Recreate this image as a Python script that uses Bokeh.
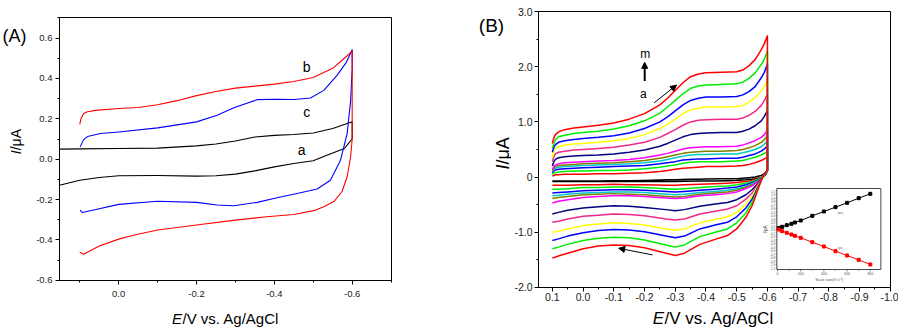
import math
from bokeh.plotting import figure
from bokeh.models import (Range1d, FixedTicker, PrintfTickFormatter, CustomJSTickFormatter,
                          Label, Arrow, NormalHead)
from bokeh.layouts import row, column
from bokeh.embed import file_html
from bokeh.resources import INLINE
from bokeh.core.properties import value

FONT = "Liberation Sans"

# ---------------- Panel A data (E in V, I in uA) ----------------
A_a_fwd_E = [0.152, 0.1, 0.0, -0.1, -0.2, -0.25, -0.3, -0.35, -0.4, -0.45, -0.5, -0.55, -0.6]
A_a_fwd_I = [0.050, 0.051, 0.053, 0.055, 0.066, 0.075, 0.090, 0.110, 0.118, 0.122, 0.130, 0.152, 0.185]
A_a_rev_E = [-0.6, -0.59, -0.58, -0.55, -0.53, -0.5, -0.45, -0.4, -0.35, -0.3, -0.25, -0.2, -0.1, 0.0, 0.05, 0.1, 0.152]
A_a_rev_I = [0.10, 0.077, 0.053, 0.031, 0.016, -0.008, -0.021, -0.038, -0.058, -0.074, -0.082, -0.084, -0.081, -0.082, -0.091, -0.104, -0.129]

A_b_fwd_E = [0.1, 0.097, 0.09, 0.08, 0.06, 0.0, -0.05, -0.1, -0.15, -0.2, -0.25, -0.3, -0.35, -0.4, -0.45, -0.5, -0.55, -0.58, -0.6]
A_b_fwd_I = [0.173, 0.20, 0.226, 0.235, 0.242, 0.251, 0.256, 0.270, 0.290, 0.315, 0.335, 0.352, 0.362, 0.372, 0.385, 0.405, 0.45, 0.50, 0.535]
A_b_rev_E = [-0.6, -0.596, -0.587, -0.574, -0.553, -0.527, -0.501, -0.45, -0.38, -0.3, -0.2, -0.1, -0.04, 0.0, 0.05, 0.09, 0.1]
A_b_rev_I = [0.10, 0.012, -0.087, -0.16, -0.21, -0.236, -0.255, -0.274, -0.285, -0.302, -0.326, -0.351, -0.376, -0.396, -0.430, -0.471, -0.461]

A_c_fwd_E = [0.099, 0.09, 0.08, 0.047, 0.0, -0.1, -0.2, -0.253, -0.296, -0.356, -0.407, -0.45, -0.493, -0.527, -0.561, -0.585, -0.6]
A_c_fwd_I = [0.061, 0.097, 0.112, 0.127, 0.135, 0.155, 0.185, 0.218, 0.255, 0.295, 0.297, 0.296, 0.303, 0.341, 0.415, 0.48, 0.542]
A_c_rev_E = [-0.6, -0.596, -0.587, -0.57, -0.544, -0.51, -0.467, -0.407, -0.356, -0.296, -0.253, -0.2, -0.1, 0.0, 0.064, 0.094, 0.099]
A_c_rev_I = [0.45, 0.29, 0.127, -0.005, -0.104, -0.148, -0.166, -0.191, -0.214, -0.231, -0.227, -0.214, -0.208, -0.224, -0.252, -0.264, -0.252]

A_xticks = [0.0, -0.2, -0.4, -0.6]
A_xminor = [0.1, -0.1, -0.3, -0.5, -0.7]
A_yticks = [-0.6, -0.4, -0.2, 0.0, 0.2, 0.4, 0.6]
A_yminor = [-0.5, -0.3, -0.1, 0.1, 0.3, 0.5, 0.7]

# ---------------- Panel B data ----------------
B_E_fwd = [0.1, 0.095, 0.09, 0.08, 0.06, 0.03, 0.0, -0.05, -0.1, -0.15, -0.2, -0.25, -0.275,
           -0.3, -0.325, -0.35, -0.375, -0.4, -0.45, -0.5, -0.52, -0.54, -0.56, -0.58, -0.59, -0.6]
B_E_rev = [-0.6, -0.595, -0.59, -0.585, -0.58, -0.57, -0.56, -0.55, -0.53, -0.5, -0.47, -0.43,
           -0.38, -0.33, -0.3, -0.27, -0.2, -0.15, -0.1, -0.05, 0.0, 0.05, 0.08, 0.1]

B_fwd_a = [-0.07, -0.07, -0.07, -0.07, -0.07, -0.07, -0.07, -0.07, -0.065, -0.065, -0.06, -0.055, -0.05, -0.05, -0.045, -0.04, -0.04, -0.035, -0.03, -0.03, -0.02, -0.01, 0.0, 0.03, 0.06, 0.12]
B_fwd_b = [0.02, 0.03, 0.04, 0.04, 0.05, 0.05, 0.05, 0.06, 0.06, 0.07, 0.08, 0.10, 0.12, 0.14, 0.16, 0.17, 0.18, 0.19, 0.19, 0.20, 0.21, 0.23, 0.26, 0.30, 0.33, 0.36]
B_fwd_c = [0.05, 0.07, 0.08, 0.09, 0.10, 0.11, 0.11, 0.12, 0.12, 0.13, 0.15, 0.18, 0.20, 0.22, 0.25, 0.27, 0.28, 0.28, 0.28, 0.29, 0.30, 0.33, 0.36, 0.40, 0.43, 0.46]
B_fwd_d = [0.08, 0.11, 0.13, 0.14, 0.15, 0.16, 0.17, 0.18, 0.19, 0.20, 0.21, 0.24, 0.26, 0.28, 0.31, 0.32, 0.33, 0.33, 0.34, 0.34, 0.36, 0.39, 0.42, 0.47, 0.51, 0.57]
B_fwd_e = [0.10, 0.14, 0.16, 0.18, 0.19, 0.20, 0.21, 0.22, 0.23, 0.24, 0.26, 0.29, 0.32, 0.35, 0.38, 0.40, 0.41, 0.41, 0.42, 0.42, 0.44, 0.47, 0.50, 0.55, 0.60, 0.66]
B_fwd_f = [0.12, 0.16, 0.19, 0.21, 0.22, 0.23, 0.24, 0.25, 0.26, 0.28, 0.30, 0.34, 0.37, 0.40, 0.43, 0.45, 0.46, 0.47, 0.47, 0.48, 0.50, 0.53, 0.57, 0.63, 0.68, 0.76]
B_fwd_g = [0.14, 0.19, 0.22, 0.24, 0.26, 0.27, 0.28, 0.29, 0.30, 0.32, 0.35, 0.40, 0.43, 0.47, 0.51, 0.53, 0.54, 0.55, 0.55, 0.56, 0.58, 0.62, 0.66, 0.72, 0.77, 0.85]
B_fwd_h = [0.20, 0.28, 0.32, 0.35, 0.37, 0.38, 0.39, 0.40, 0.42, 0.45, 0.49, 0.56, 0.61, 0.67, 0.73, 0.77, 0.79, 0.80, 0.81, 0.81, 0.83, 0.87, 0.93, 1.02, 1.10, 1.21]
B_fwd_i = [0.28, 0.37, 0.42, 0.45, 0.47, 0.49, 0.50, 0.52, 0.54, 0.58, 0.63, 0.72, 0.79, 0.86, 0.94, 1.00, 1.03, 1.04, 1.05, 1.05, 1.07, 1.12, 1.19, 1.30, 1.39, 1.50]
B_fwd_j = [0.36, 0.46, 0.52, 0.55, 0.58, 0.60, 0.61, 0.63, 0.66, 0.70, 0.77, 0.88, 0.96, 1.05, 1.15, 1.22, 1.25, 1.27, 1.27, 1.28, 1.30, 1.36, 1.44, 1.56, 1.65, 1.77]
B_fwd_k = [0.45, 0.54, 0.59, 0.63, 0.66, 0.68, 0.70, 0.72, 0.75, 0.80, 0.88, 1.00, 1.09, 1.20, 1.31, 1.39, 1.43, 1.45, 1.45, 1.46, 1.49, 1.55, 1.64, 1.80, 1.90, 2.05]
B_fwd_l = [0.52, 0.61, 0.68, 0.73, 0.76, 0.79, 0.81, 0.83, 0.87, 0.93, 1.02, 1.16, 1.27, 1.39, 1.51, 1.61, 1.65, 1.67, 1.68, 1.69, 1.72, 1.79, 1.89, 2.04, 2.14, 2.28]
B_fwd_m = [0.61, 0.71, 0.77, 0.82, 0.86, 0.89, 0.91, 0.94, 0.98, 1.05, 1.15, 1.31, 1.43, 1.57, 1.71, 1.82, 1.87, 1.89, 1.90, 1.91, 1.94, 2.02, 2.13, 2.31, 2.42, 2.56]

B_rev_a = [0.12, 0.05, 0.02, 0.0, -0.01, -0.02, -0.03, -0.04, -0.05, -0.06, -0.065, -0.07, -0.07, -0.075, -0.08, -0.08, -0.08, -0.08, -0.08, -0.08, -0.08, -0.08, -0.08, -0.08]
B_rev_b = [0.12, 0.06, 0.03, 0.0, -0.01, -0.03, -0.04, -0.06, -0.08, -0.10, -0.11, -0.12, -0.13, -0.14, -0.15, -0.15, -0.14, -0.14, -0.13, -0.14, -0.14, -0.15, -0.15, -0.15]
B_rev_c = [0.12, 0.07, 0.03, 0.0, -0.01, -0.04, -0.06, -0.08, -0.11, -0.14, -0.16, -0.17, -0.19, -0.21, -0.22, -0.21, -0.19, -0.18, -0.18, -0.19, -0.19, -0.21, -0.22, -0.22]
B_rev_d = [0.12, 0.07, 0.03, 0.0, -0.02, -0.05, -0.08, -0.10, -0.14, -0.18, -0.20, -0.22, -0.24, -0.26, -0.27, -0.26, -0.24, -0.23, -0.23, -0.24, -0.25, -0.27, -0.28, -0.29]
B_rev_e = [0.12, 0.08, 0.04, 0.0, -0.02, -0.06, -0.09, -0.12, -0.17, -0.21, -0.24, -0.26, -0.28, -0.31, -0.32, -0.31, -0.28, -0.27, -0.27, -0.28, -0.29, -0.31, -0.33, -0.34]
B_rev_f = [0.12, 0.08, 0.04, 0.0, -0.02, -0.07, -0.11, -0.14, -0.19, -0.24, -0.27, -0.29, -0.31, -0.35, -0.36, -0.35, -0.32, -0.31, -0.30, -0.31, -0.32, -0.35, -0.37, -0.39]
B_rev_g = [0.12, 0.08, 0.04, 0.0, -0.03, -0.08, -0.12, -0.16, -0.21, -0.27, -0.30, -0.32, -0.34, -0.38, -0.39, -0.38, -0.35, -0.34, -0.34, -0.35, -0.37, -0.41, -0.44, -0.47]
B_rev_h = [0.12, 0.08, 0.05, 0.0, -0.03, -0.11, -0.17, -0.23, -0.32, -0.41, -0.46, -0.49, -0.53, -0.59, -0.61, -0.59, -0.55, -0.53, -0.52, -0.54, -0.56, -0.60, -0.64, -0.67]
B_rev_i = [0.12, 0.08, 0.05, 0.0, -0.04, -0.13, -0.21, -0.29, -0.40, -0.52, -0.58, -0.62, -0.67, -0.76, -0.78, -0.76, -0.70, -0.68, -0.67, -0.69, -0.71, -0.76, -0.80, -0.82]
B_rev_j = [0.12, 0.09, 0.05, 0.0, -0.05, -0.15, -0.25, -0.35, -0.49, -0.64, -0.72, -0.77, -0.83, -0.94, -0.96, -0.94, -0.87, -0.84, -0.83, -0.85, -0.88, -0.94, -0.98, -1.00]
B_rev_k = [0.12, 0.09, 0.06, 0.0, -0.05, -0.17, -0.29, -0.40, -0.56, -0.72, -0.82, -0.87, -0.94, -1.07, -1.10, -1.07, -0.99, -0.96, -0.95, -0.97, -1.01, -1.07, -1.12, -1.15]
B_rev_l = [0.12, 0.09, 0.06, 0.0, -0.06, -0.19, -0.33, -0.46, -0.65, -0.83, -0.94, -1.00, -1.08, -1.23, -1.27, -1.23, -1.14, -1.10, -1.09, -1.11, -1.15, -1.22, -1.27, -1.30]
B_rev_m = [0.12, 0.09, 0.06, 0.0, -0.06, -0.21, -0.37, -0.52, -0.73, -0.94, -1.06, -1.13, -1.22, -1.38, -1.42, -1.38, -1.28, -1.24, -1.23, -1.25, -1.30, -1.38, -1.43, -1.47]

B_colors = ["#000000", "#FF0000", "#00EE00", "#0000FF", "#00C8C8", "#808000", "#FF00FF",
            "#000080", "#F0288C", "#FFFF00", "#0000FF", "#00EE00", "#FF0000"]

B_xticks = [0.1, 0.0, -0.1, -0.2, -0.3, -0.4, -0.5, -0.6, -0.7, -0.8, -0.9, -1.0]
B_xminor = [0.05, -0.05, -0.15, -0.25, -0.35, -0.45, -0.55, -0.65, -0.75, -0.85, -0.95]
B_yticks = [-2.0, -1.0, 0.0, 1.0, 2.0, 3.0]
B_yminor = [-1.5, -0.5, 0.5, 1.5, 2.5]

# inset: peak current vs scan rate
IN_rate = [10, 40, 80, 120, 150, 200, 300, 400, 500, 600, 700, 800]
IN_ipa = [0.04, 0.076, 0.124, 0.162, 0.20, 0.257, 0.39, 0.514, 0.638, 0.762, 0.895, 1.019]
IN_ipc = [0.0, -0.048, -0.095, -0.143, -0.181, -0.238, -0.362, -0.486, -0.619, -0.743, -0.867, -1.0]
IN_xticks = [0, 200, 400, 600, 800]
IN_xminor = [100, 300, 500, 700]
IN_yticks = [-1.1, -1.0, -0.9, -0.8, -0.7, -0.6, -0.5, -0.4, -0.3, -0.2, -0.1, 0.0,
             0.1, 0.2, 0.3, 0.4, 0.5, 0.6, 0.7, 0.8, 0.9, 1.0, 1.1]


def style(p, fs, maj, mnr, sx, sy):
    p.grid.visible = False
    p.outline_line_color = "black"
    p.outline_line_alpha = 1
    p.outline_line_width = 1
    p.background_fill_color = "white"
    p.border_fill_color = "white"
    for ax in p.axis:
        ax.axis_line_color = "black"
        ax.major_tick_in = 0
        ax.major_tick_out = maj
        ax.minor_tick_in = 0
        ax.minor_tick_out = mnr
        ax.major_tick_line_color = "black"
        ax.minor_tick_line_color = "black"
        ax.major_label_text_font = FONT
        ax.major_label_text_font_size = fs
        ax.major_label_text_color = "#222222"
    p.xaxis.major_label_standoff = sx
    p.yaxis.major_label_standoff = sy


def lab(p, x, y, text, size, align="center"):
    p.add_layout(Label(x=x, y=y, text=text, text_font=FONT, text_font_size=size,
                       text_align=align, text_baseline="middle", text_color="black"))


def strip(w, h):
    s = figure(width=w, height=h, x_range=Range1d(0, w), y_range=Range1d(0, h),
               x_axis_type=None, y_axis_type=None, toolbar_location=None, output_backend="svg",
               min_border=0, min_border_left=0, min_border_right=0, min_border_top=0,
               min_border_bottom=0, outline_line_color=None)
    s.background_fill_color = "white"
    s.border_fill_color = "white"
    return s


def stext(s, h, x, y, text, size, align="center", italic=False, angle=0.0):
    # x, y in strip pixels measured from the strip's top-left corner
    s.text(x=[x], y=[h - y], text=[text], angle=angle, text_font=value(FONT),
           text_font_size=size, text_align=align, text_baseline="middle",
           text_font_style="italic" if italic else "normal", text_color="black")


# ---------------- Panel A ----------------
A_LW, A_TOPH, A_BH = 30, 302, 30
pA = figure(width=420, height=A_TOPH, x_range=Range1d(0.152, -0.701), y_range=Range1d(-0.601, 0.702),
            output_backend="svg", toolbar_location=None,
            min_border_left=29, min_border_right=59, min_border_top=17, min_border_bottom=22)
pA.xaxis.ticker = FixedTicker(ticks=A_xticks, minor_ticks=A_xminor)
pA.yaxis.ticker = FixedTicker(ticks=A_yticks, minor_ticks=A_yminor)
pA.xaxis.formatter = PrintfTickFormatter(format="%.1f")
pA.yaxis.formatter = PrintfTickFormatter(format="%.1f")
style(pA, "9.5px", 4, 2, 6, 3)

pA.line(A_a_fwd_E + A_a_rev_E, A_a_fwd_I + A_a_rev_I, line_color="black", line_width=1.1, line_join="round")
pA.line(A_c_fwd_E + A_c_rev_E, A_c_fwd_I + A_c_rev_I, line_color="#0000FF", line_width=1.1, line_join="round")
pA.line(A_b_fwd_E + A_b_rev_E, A_b_fwd_I + A_b_rev_I, line_color="#FF0000", line_width=1.1, line_join="round")

lab(pA, -0.483, 0.457, "b", "14px")
lab(pA, -0.483, 0.234, "c", "14px")
lab(pA, -0.470, 0.048, "a", "14px")

leftA = strip(A_LW, A_TOPH)
stext(leftA, A_TOPH, 14, 21, "(A)", "18px")
stext(leftA, A_TOPH, 15, 152.5, "I", "14px", align="right", italic=True, angle=math.pi / 2)
stext(leftA, A_TOPH, 15, 152.5, "/\u03bcA", "14px", align="left", angle=math.pi / 2)

bottomA = strip(450, A_BH)
stext(bottomA, A_BH, 181.5, 16, "E", "15px", align="right", italic=True)
stext(bottomA, A_BH, 182, 16, "/V vs. Ag/AgCl", "15px", align="left")

colA = column(row(leftA, pA), bottomA)

# ---------------- Panel B ----------------
B_LW, B_TOPH, B_BH = 61, 307, 25
B_L, B_R, B_T, B_B = 25, 8, 11, 20
B_FW = 354
B_FH = B_TOPH - B_T - B_B
pB = figure(width=B_L + B_FW + B_R, height=B_TOPH, x_range=Range1d(0.145, -1.0005),
            y_range=Range1d(-2.002, 3.002), output_backend="svg", toolbar_location=None,
            min_border_left=B_L, min_border_right=B_R, min_border_top=B_T, min_border_bottom=B_B)
pB.xaxis.ticker = FixedTicker(ticks=B_xticks, minor_ticks=B_xminor)
pB.yaxis.ticker = FixedTicker(ticks=B_yticks, minor_ticks=B_yminor)
pB.xaxis.formatter = PrintfTickFormatter(format="%.1f")
pB.yaxis.formatter = CustomJSTickFormatter(code="return Math.abs(tick) < 1e-9 ? '0' : tick.toFixed(1);")
style(pB, "10.5px", 4, 2, 1, 2)

B_fwd = [B_fwd_a, B_fwd_b, B_fwd_c, B_fwd_d, B_fwd_e, B_fwd_f, B_fwd_g,
         B_fwd_h, B_fwd_i, B_fwd_j, B_fwd_k, B_fwd_l, B_fwd_m]
B_rev = [B_rev_a, B_rev_b, B_rev_c, B_rev_d, B_rev_e, B_rev_f, B_rev_g,
         B_rev_h, B_rev_i, B_rev_j, B_rev_k, B_rev_l, B_rev_m]
for fw, rv, col in zip(B_fwd, B_rev, B_colors):
    pB.line(B_E_fwd + B_E_rev, fw + rv, line_color=col, line_width=1.5, line_join="round")

pB.add_layout(Arrow(end=NormalHead(size=6, fill_color="black", line_color="black"),
                    x_start=-0.231, y_start=1.345, x_end=-0.304, y_end=1.667, line_width=1))
pB.add_layout(Arrow(end=NormalHead(size=6, fill_color="black", line_color="black"),
                    x_start=-0.226, y_start=-1.411, x_end=-0.116, y_end=-1.291, line_width=1))
pB.add_layout(Arrow(end=NormalHead(size=6, fill_color="black", line_color="black"),
                    x_start=-0.2006, y_start=1.74, x_end=-0.2006, y_end=2.08, line_width=2))
lab(pB, -0.2025, 2.24, "m", "12px")
lab(pB, -0.196, 1.50, "a", "12px")

# ---- inset, drawn in its own ranges mapped onto a sub-box of the frame ----
IN_L, IN_R, IN_T, IN_BOT = 239.7, 344.3, 177.0, 258.0   # px inside frame (from left / from top)
IX0, IX1 = -5.7, 891.0
IY0, IY1 = -1.143, 1.171
sx = (IX1 - IX0) / (IN_R - IN_L)
sy = (IY1 - IY0) / (IN_BOT - IN_T)
pB.extra_x_ranges = {"ix": Range1d(IX0 - IN_L * sx, IX1 + (B_FW - IN_R) * sx)}
pB.extra_y_ranges = {"iy": Range1d(IY0 - (B_FH - IN_BOT) * sy, IY1 + IN_T * sy)}
kw = dict(x_range_name="ix", y_range_name="iy")

pB.quad(left=[IX0], right=[IX1], bottom=[IY0], top=[IY1], fill_color="white",
        line_color="#333333", line_width=0.9, **kw)
pB.segment(x0=IN_xticks, x1=IN_xticks, y0=[IY0] * len(IN_xticks), y1=[IY0 - 2.0 * sy] * len(IN_xticks),
           line_color="#333333", line_width=0.6, **kw)
pB.segment(x0=IN_xminor, x1=IN_xminor, y0=[IY0] * len(IN_xminor), y1=[IY0 - 1.2 * sy] * len(IN_xminor),
           line_color="#333333", line_width=0.6, **kw)
pB.segment(x0=[IX0] * len(IN_yticks), x1=[IX0 - 1.2 * sx] * len(IN_yticks), y0=IN_yticks, y1=IN_yticks,
           line_color="#333333", line_width=0.5, **kw)
pB.text(x=IN_xticks, y=[IY0 - 2.6 * sy] * len(IN_xticks), text=[str(v) for v in IN_xticks],
        text_font=value(FONT), text_font_size="3.5px", text_align="center", text_baseline="top",
        text_color="#555555", **kw)
pB.text(x=[IX0 - 1.8 * sx] * len(IN_yticks), y=IN_yticks, text=["%.1f" % v for v in IN_yticks],
        text_font=value(FONT), text_font_size="3px", text_align="right", text_baseline="middle",
        text_color="#555555", **kw)
pB.text(x=[IX0 + (828.3 - 775.7) * sx], y=[IY0 - 9.5 * sy], text=["Scan rate(V s\u207b\u00b9)"],
        text_font=value(FONT), text_font_size="4px", text_align="center", text_baseline="middle",
        text_color="#555555", **kw)
pB.text(x=[IX0 - 11.5 * sx], y=[0.0], text=["I/\u03bcA"], angle=math.pi / 2,
        text_font=value(FONT), text_font_size="4.5px", text_align="center", text_baseline="middle",
        text_color="#333333", **kw)
pB.text(x=[542, 542], y=[0.477, -0.506], text=["ipa", "ipc"],
        text_font=value(FONT), text_font_size="4px", text_align="center", text_baseline="middle",
        text_color="#777777", **kw)
pB.line(IN_rate, IN_ipa, line_color="black", line_width=1, **kw)
pB.scatter(IN_rate, IN_ipa, marker="square", size=3, fill_color="black", line_color="black", **kw)
pB.line(IN_rate, IN_ipc, line_color="#FF0000", line_width=1, **kw)
pB.scatter(IN_rate, IN_ipc, marker="square", size=3, fill_color="#FF0000", line_color="#FF0000", **kw)

leftB = strip(B_LW, B_TOPH)
stext(leftB, B_TOPH, 41, 15.5, "(B)", "19px")
stext(leftB, B_TOPH, 52, 170.2, "I", "18px", align="right", italic=True, angle=math.pi / 2)
stext(leftB, B_TOPH, 52, 170.2, "/\u03bcA", "18px", align="left", angle=math.pi / 2)

bottomB = strip(448, B_BH)
stext(bottomB, B_BH, 213.5, 11.3, "E", "17px", align="right", italic=True)
stext(bottomB, B_BH, 214, 11.3, "/V vs. Ag/AgCl", "17px", align="left")

colB = column(row(leftB, pB), bottomB)

layout = row(colA, colB)
open("out.html", "w").write(file_html(layout, INLINE))
